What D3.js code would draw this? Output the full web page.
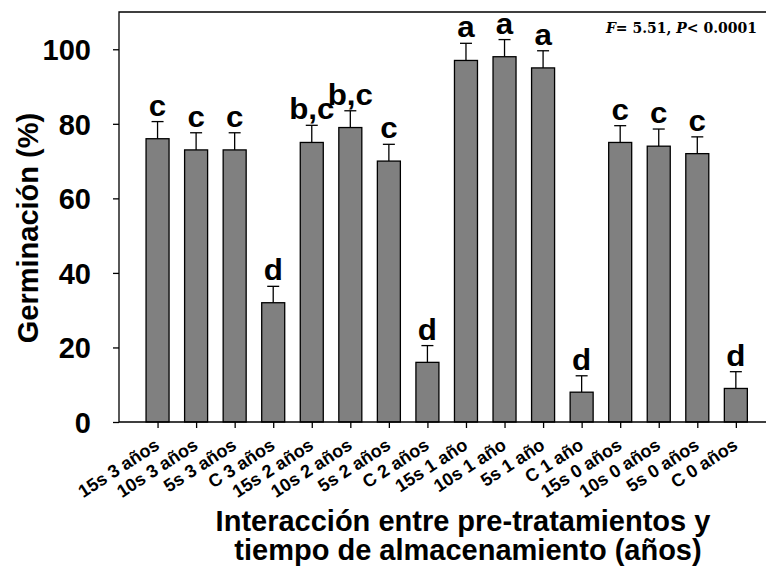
<!DOCTYPE html>
<html>
<head>
<meta charset="utf-8">
<script src="https://cdn.jsdelivr.net/npm/d3@7"></script>
<style>
  body { margin: 0; background: #fff; }
  svg text { font-family: "Liberation Sans", Arial, sans-serif; font-weight: bold; }
</style>
</head>
<body>
<script>
var categories = ["15s 3 años", "10s 3 años", "5s 3 años", "C 3 años",
                  "15s 2 años", "10s 2 años", "5s 2 años", "C 2 años",
                  "15s 1 año", "10s 1 año", "5s 1 año", "C 1 año",
                  "15s 0 años", "10s 0 años", "5s 0 años", "C 0 años"]
var values  = [76, 73, 73, 32, 75, 79, 70, 16, 97, 98, 95, 8, 75, 74, 72, 9]
var errors  = [4.6, 4.6, 4.6, 4.4, 4.6, 4.5, 4.5, 4.5, 4.6, 4.6, 4.6, 4.4, 4.5, 4.6, 4.5, 4.5]
var letters = ["c", "c", "c", "d", "b,c", "b,c", "c", "d", "a", "a", "a", "d", "c", "c", "c", "d"]
var yTicks  = [0, 20, 40, 60, 80, 100]

var W = 766, H = 569
var plot = { left: 119, top: 12, bottom: 422, right: 774.4 }

var svg = d3.select("body").append("svg")
    .attr("width", W)
    .attr("height", H)

var x = d3.scalePoint()
    .domain(categories)
    .range([plot.left, plot.right])
    .padding(1)

var y = d3.scaleLinear()
    .domain([0, 110])
    .range([plot.bottom, plot.top])

var barW = 23

var data = categories.map(function(c, i) {
    return { cat: c, v: values[i], e: errors[i], l: letters[i] }
})

// error bars (drawn first so the bar covers the lower half)
var eb = svg.append("g")
eb.selectAll("line.stem")
    .data(data).enter().append("line")
    .attr("x1", function(d) { return x(d.cat) })
    .attr("x2", function(d) { return x(d.cat) })
    .attr("y1", function(d) { return y(d.v) })
    .attr("y2", function(d) { return y(d.v + d.e) })
    .style("stroke", "#000").style("stroke-width", 1.3)
eb.selectAll("line.cap")
    .data(data).enter().append("line")
    .attr("x1", function(d) { return x(d.cat) - 6 })
    .attr("x2", function(d) { return x(d.cat) + 6 })
    .attr("y1", function(d) { return y(d.v + d.e) })
    .attr("y2", function(d) { return y(d.v + d.e) })
    .style("stroke", "#000").style("stroke-width", 1.3)

// bars
svg.append("g").selectAll("rect")
    .data(data).enter().append("rect")
    .attr("x", function(d) { return x(d.cat) - barW / 2 })
    .attr("y", function(d) { return y(d.v) })
    .attr("width", barW)
    .attr("height", function(d) { return y(0) - y(d.v) })
    .style("fill", "#808080")
    .style("stroke", "#000")
    .style("stroke-width", 1.3)

// significance letters (slightly wide, like the original)
svg.append("g").selectAll("text")
    .data(data).enter().append("text")
    .attr("transform", function(d) {
        return "translate(" + x(d.cat) + "," + (y(d.v + d.e) - 6) + ") scale(1.08,1)" })
    .attr("text-anchor", "middle")
    .style("font-size", "29px")
    .text(function(d) { return d.l })

// frame: left, top, bottom
svg.append("path")
    .attr("d", "M" + W + "," + plot.top + "H" + plot.left + "V" + plot.bottom + "H" + W)
    .style("fill", "none").style("stroke", "#000").style("stroke-width", 1.3)

// y axis
var yAxis = svg.append("g")
    .attr("transform", "translate(" + plot.left + ",0)")
    .call(d3.axisLeft(y).tickValues(yTicks).tickSize(6).tickPadding(22))
yAxis.select(".domain").remove()
yAxis.selectAll("line").style("stroke", "#000").style("stroke-width", 1.3)
yAxis.selectAll("text")
    .style("font-size", "29px")
    .style("font-family", "'Liberation Sans', Arial, sans-serif")
    .style("font-weight", "bold")
    .attr("dy", "0.36em")

// x axis ticks
var xAxis = svg.append("g")
    .attr("transform", "translate(0," + plot.bottom + ")")
    .call(d3.axisBottom(x).tickSize(6).tickFormat(""))
xAxis.select(".domain").remove()
xAxis.selectAll("line").style("stroke", "#000").style("stroke-width", 1.3)

// rotated category labels
svg.append("g").selectAll("text")
    .data(categories).enter().append("text")
    .attr("transform", function(d) {
        return "translate(" + (x(d) + 3) + ",448) rotate(-33)" })
    .attr("text-anchor", "end")
    .style("font-size", "18px")
    .text(function(d) { return d })

// axis titles
svg.append("text")
    .attr("transform", "translate(38,228) rotate(-90)")
    .attr("text-anchor", "middle")
    .style("font-size", "29px")
    .text("Germinación (%)")

svg.append("text")
    .attr("x", 463).attr("y", 531)
    .attr("text-anchor", "middle")
    .style("font-size", "29px")
    .text("Interacción entre pre-tratamientos y")

svg.append("text")
    .attr("x", 468).attr("y", 560)
    .attr("text-anchor", "middle")
    .style("font-size", "29px")
    .text("tiempo de almacenamiento (años)")

// statistics note
var note = svg.append("text")
    .attr("x", 757).attr("y", 33)
    .attr("text-anchor", "end")
    .style("font-family", "'DejaVu Serif', 'Liberation Serif', serif")
    .style("font-size", "14px")
note.append("tspan").style("font-style", "italic").text("F")
note.append("tspan").text("= 5.51, ")
note.append("tspan").style("font-style", "italic").text("P")
note.append("tspan").text("< 0.0001")
</script>
</body>
</html>
